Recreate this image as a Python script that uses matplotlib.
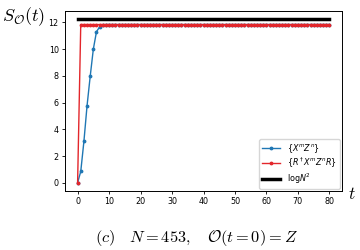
import numpy as np
import matplotlib
matplotlib.use("Agg")
import matplotlib.pyplot as plt

# ---- Data ----
N = 453
t = np.arange(0, 81)
blue_head = [0.0, 0.85, 3.09, 5.76, 7.96, 10.0, 11.3, 11.65, 11.78]
sat = 11.83
s_xz = np.array(blue_head + [sat] * (len(t) - len(blue_head)))
s_rxzr = np.array([0.0] + [sat] * (len(t) - 1))
s_max = np.log(N ** 2)

# ---- Plot ----
fig = plt.figure(figsize=(3.6, 2.5), dpi=100, facecolor="white")
ax = fig.add_axes([0.1806, 0.236, 0.7694, 0.72])

ax.plot(t, s_xz, color="tab:blue", marker=".", markersize=3.5, linewidth=1.0,
        label=r"$\{X^m Z^n\}$")
ax.plot(t, s_rxzr, color="#e3262b", marker=".", markersize=3.5, linewidth=1.0,
        label=r"$\{R^\dagger X^m Z^n R\}$")
ax.plot(t, np.full_like(t, s_max, dtype=float), color="black", linewidth=2.5,
        label=r"log$N^2$")

ax.set_xticks(np.arange(0, 81, 10))
ax.set_yticks(np.arange(0, 13, 2))
ax.tick_params(axis="both", labelsize=5.8, length=2.5, width=0.6, pad=2)
for sp in ax.spines.values():
    sp.set_linewidth(0.7)

ax.legend(loc="lower right", fontsize=5.8, frameon=True, borderaxespad=0.3,
          handlelength=2.3, labelspacing=0.15, borderpad=0.35)

fig.text(0.065, 0.935, r"$S_{\mathcal{O}}(t)$", fontsize=13, ha="center",
         va="center", math_fontfamily="cm")
fig.text(0.978, 0.225, r"$t$", fontsize=12.5, ha="center", va="center",
         math_fontfamily="cm")
fig.text(0.546, 0.048, r"$(c)\quad N=453,\quad \mathcal{O}(t=0)=Z$",
         fontsize=11.8, ha="center", va="center", math_fontfamily="cm")

fig.savefig("out.png", dpi=100, facecolor="white")
plt.close()
